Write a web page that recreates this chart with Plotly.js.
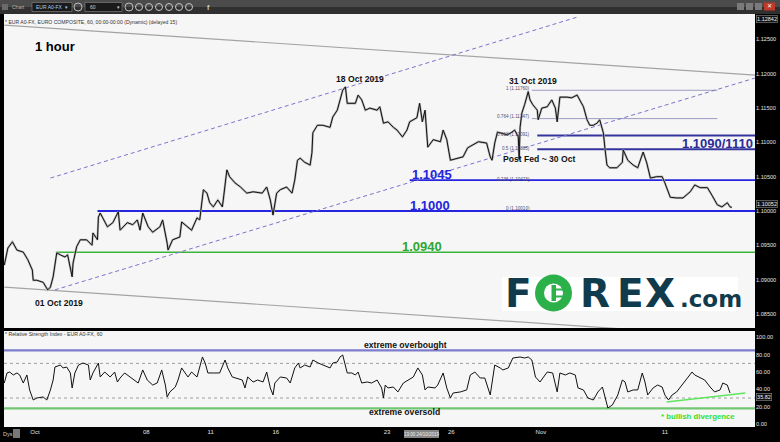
<!DOCTYPE html>
<html>
<head>
<meta charset="utf-8">
<script src="https://cdn.plot.ly/plotly-3.0.1.min.js"></script>
<style>
  html, body { margin:0; padding:0; background:#000; overflow:hidden; }
  #chart { width:780px; height:442px; }
</style>
</head>
<body>
<div id="chart"></div>
<script>
// EUR/USD (EUR A0-FX) hourly chart with RSI, 1 Oct - 13 Nov 2019.
// x values are trading hours counted from the 1 Oct 2019 session open.

const priceHour = [-34,-30,-25,-20,-13,-8,-3,-2,2,9,
  14,17,20,22,24,28,33,36,41,42,
  46,50,57,63,64,69,70,72,80,86,
  92,94,102,108,113,116,119,125,130,138,
  141,146,147,152,160,162,168,173,179,182,
  186,190,193,197,202,207,208,212,215,221,
  227,234,241,251,256,260,263,267,271,278,
  284,287,290,293,298,304,306,307,312,318,
  326,329,334,337,340,343,345,348,354,357,
  361,365,370,378,381,385,390,396,400,406,
  411,414,422,425,428,431,434,440,448,451,
  455,459,466,473,478,484,490,499,503,505,
  508,511,514,522,527,530,534,535,536,538,
  541,545,547,550,555,556,560,566,571,575,
  577,580,588,593,599,602,606,610,613,617,
  621,624,628,630,632,635,643,649,650,655,
  661,666,672,676,680,687,693,696,702,709,
  716,724,729,735,743,748,754,759,765,768,
  770];

const priceClose = [1.0921,1.0946,1.0955,1.0943,1.0940,1.0929,1.0914,1.0899,1.0899,1.0896,
  1.0885,1.0889,1.0904,1.0924,1.0939,1.0936,1.0933,1.0936,1.0904,1.0924,
  1.0948,1.0958,1.0958,1.0950,1.0968,1.0958,1.0991,1.0997,1.0977,1.0983,
  1.0999,1.0972,1.0983,1.0980,1.0987,1.0972,1.0997,1.0977,1.0969,1.0977,
  1.0987,1.0953,1.0943,1.0958,1.0962,1.0984,1.0977,1.0972,1.0990,1.0987,
  1.1031,1.1026,1.1012,1.1006,1.1016,1.1006,1.1016,1.1060,1.1050,1.1041,
  1.1035,1.1026,1.1028,1.1026,1.1035,1.1016,1.0994,1.1026,1.1031,1.1035,
  1.1026,1.1045,1.1074,1.1077,1.1071,1.1067,1.1085,1.1114,1.1125,1.1125,
  1.1122,1.1137,1.1147,1.1162,1.1176,1.1181,1.1157,1.1157,1.1157,1.1169,
  1.1162,1.1147,1.1150,1.1147,1.1152,1.1128,1.1130,1.1122,1.1118,1.1108,
  1.1118,1.1130,1.1136,1.1157,1.1130,1.1147,1.1093,1.1104,1.1101,1.1118,
  1.1104,1.1074,1.1077,1.1079,1.1092,1.1096,1.1101,1.1099,1.1079,1.1074,
  1.1099,1.1115,1.1114,1.1111,1.1115,1.1118,1.1108,1.1075,1.1122,1.1143,
  1.1155,1.1174,1.1162,1.1155,1.1147,1.1133,1.1150,1.1152,1.1162,1.1150,
  1.1130,1.1166,1.1166,1.1165,1.1169,1.1162,1.1152,1.1133,1.1125,1.1125,
  1.1128,1.1133,1.1114,1.1089,1.1067,1.1063,1.1063,1.1071,1.1089,1.1074,
  1.1067,1.1063,1.1086,1.1070,1.1048,1.1050,1.1050,1.1041,1.1020,1.1019,
  1.1019,1.1028,1.1038,1.1034,1.1034,1.1023,1.1009,1.1006,1.1012,1.1006,
  1.10052];

const rsiHour = [-34,-31,-28,-24,-20,-17,-13,-9,-6,-2,
  2,6,9,13,17,20,22,28,31,35,
  39,41,44,48,53,59,61,64,69,70,
  72,77,83,88,91,94,99,105,110,114,
  119,124,130,135,140,144,146,149,155,158,
  162,166,169,173,179,182,185,188,191,197,
  204,210,213,218,223,229,232,235,241,246,
  252,256,260,263,265,271,278,282,287,291,
  293,298,304,307,313,318,326,329,334,337,
  340,345,350,354,357,361,367,372,378,383,
  385,387,390,396,401,407,412,418,423,428,
  431,434,442,445,451,455,459,462,470,477,
  481,486,492,497,503,508,514,517,523,528,
  536,541,545,549,553,558,566,572,577,580,
  586,591,597,600,606,611,617,622,627,630,
  633,638,641,644,649,652,655,661,666,671,
  674,677,683,688,693,696,700,704,709,715,
  721,726,729,735,740,746,751,757,760,765,
  768];

const rsiValue = [47.3,58.9,60.0,56.6,58.9,56.6,47.3,56.6,39.3,27.7,
  30.0,31.2,31.2,27.7,39.3,50.8,65.8,68.1,64.7,65.8,
  58.9,41.6,58.9,68.1,70.4,68.1,50.8,58.9,68.1,70.4,
  54.3,60.0,54.3,60.0,48.5,53.1,58.9,54.3,50.8,47.3,
  62.4,50.8,45.0,47.3,62.4,45.0,31.2,37.0,42.7,50.8,
  64.7,58.9,54.3,60.0,54.3,65.8,77.4,70.4,58.9,58.9,
  58.9,73.9,64.7,54.3,53.1,50.8,41.6,54.3,48.5,50.8,
  48.5,60.0,41.6,33.5,47.3,54.3,53.1,47.3,64.7,70.4,
  64.7,68.1,65.8,73.9,70.4,68.1,64.7,70.4,71.6,77.4,
  79.7,58.9,58.9,56.6,60.0,47.3,48.5,47.3,50.8,41.6,
  30.0,45.0,41.6,42.7,37.0,47.3,50.8,54.3,64.7,56.6,
  39.3,42.7,41.6,45.0,58.9,41.6,30.0,35.8,37.0,39.3,
  56.6,60.0,53.1,53.1,33.5,68.1,64.7,62.4,64.7,76.2,
  77.4,76.2,77.4,73.9,54.3,48.5,60.0,58.9,37.0,58.9,
  56.6,58.9,56.6,41.6,39.3,30.0,27.7,37.0,42.7,31.2,
  18.5,21.9,27.7,33.5,50.8,48.5,37.0,39.3,39.3,58.9,
  48.5,33.5,41.6,45.0,42.7,33.5,27.7,33.5,37.0,45.0,
  53.1,60.0,56.6,53.1,50.8,42.7,37.0,39.3,47.3,45.0,
  35.82];

// calendar labels along the time axis
const dayTickHours = [0, 123, 194, 266, 389, 460, 559, 696];
const dayTickLabels = ['Oct', '08', '11', '16', '23', '26', 'Nov', '11'];

const priceTicks = [1.085, 1.09, 1.095, 1.1, 1.105, 1.11, 1.115, 1.12, 1.125];
const rsiTicks = [0, 20, 40, 60, 80, 100];
const chartTop = 1.12842;

// key levels and where each one starts
const supportMain = 1.1000, supportMainFrom = 69;
const supportLow = 1.0940, supportLowFrom = 24;
const resistNear = 1.1045, resistNearFrom = 414;
const resistZone = [1.1090, 1.1110], resistZoneFrom = 555;

// Fibonacci retracement: 31 Oct high down to the 1.1001 low
const fibHigh = 1.1176;
const fibLow = 1.1001;
const fibRatios = [1, 0.764, 0.618, 0.5, 0.236, 0];
const fibSpan = [549, 754];

// rising channel and the two long trendlines (hour, price anchors)
const channelUpperHours = [17, 600];
const channelUpperPrices = [1.1048, 1.1283];
const channelLowerHours = [22, 796];
const channelLowerPrices = [1.0885, 1.1194];
const trendTopHours = [-34, 796];
const trendTopPrices = [1.1271, 1.1198];
const trendBottomHours = [-34, 796];
const trendBottomPrices = [1.0889, 1.0815];

// RSI bands and the divergence trendline
const rsiOverbought = 85;
const rsiOversold = 18;
const rsiGuides = [70, 30];
const divergenceHours = [698, 785];
const divergenceRsi = [25.4, 35.8];

// ---- page geometry helpers (page pixels -> paper fractions) ----
const PL = 4, PT = 14, PW = 751, PH = 413;
const fx = x => (x - PL) / PW;
const fy = y => (PT + PH - y) / PH;

const FONT = 'Liberation Sans, Arial, sans-serif';

const traces = [
  {x: trendTopHours, y: trendTopPrices, mode: 'lines', line: {color: '#a4a4a4', width: 1.2}, hoverinfo: 'skip'},
  {x: trendBottomHours, y: trendBottomPrices, mode: 'lines', line: {color: '#a4a4a4', width: 1.2}, hoverinfo: 'skip'},
  {x: channelUpperHours, y: channelUpperPrices, mode: 'lines', line: {color: '#7c74cc', width: 1, dash: '4px,3px'}, hoverinfo: 'skip'},
  {x: channelLowerHours, y: channelLowerPrices, mode: 'lines', line: {color: '#7c74cc', width: 1, dash: '4px,3px'}, hoverinfo: 'skip'},
  {x: priceHour, y: priceClose, mode: 'lines', line: {color: '#b4b4b4', width: 2.2}, hoverinfo: 'skip'},
  {x: priceHour, y: priceClose, mode: 'lines', line: {color: '#111', width: 1}, hoverinfo: 'skip'},
  {x: rsiHour, y: rsiValue, mode: 'lines', yaxis: 'y2', line: {color: '#111', width: 1}, hoverinfo: 'skip'},
  {x: divergenceHours, y: divergenceRsi, mode: 'lines', yaxis: 'y2', line: {color: '#5ee65e', width: 1.5}, hoverinfo: 'skip'}
];

const shapes = [];
const hline = (yref, y, x0, x1, color, width, dash, xref) => shapes.push({
  type: 'line', xref: xref || 'x', yref: yref, x0: x0, x1: x1, y0: y, y1: y,
  line: {color: color, width: width, dash: dash || 'solid'}, layer: 'below'
});

// price levels
hline('y', supportLow, supportLowFrom, 900, '#3cb43c', 1.5);
hline('y', supportMain, supportMainFrom, 900, '#2525e0', 1.8);
hline('y', resistNear, resistNearFrom, 900, '#2525e0', 1.8);
resistZone.forEach(v => hline('y', v, resistZoneFrom, 900, '#34349e', 2));
const fibPrice = r => fibLow + r * (fibHigh - fibLow);
[1, 0.764].forEach(r => hline('y', fibPrice(r), fibSpan[0], fibSpan[1], '#9c9cc4', 1));

// RSI bands
hline('y2', rsiOverbought, 0, 1, '#7d7dcc', 2.2, 'solid', 'paper');
hline('y2', rsiOversold, 0, 1, '#72c672', 2.4, 'solid', 'paper');
rsiGuides.forEach(v => hline('y2', v, 0, 1, '#8a8a8a', 0.8, 'dot', 'paper'));

// toolbar
const rectP = (x0, y0, x1, y1, fill, line, lw) => shapes.push({
  type: 'rect', xref: 'paper', yref: 'paper', x0: fx(x0), x1: fx(x1), y0: fy(y1), y1: fy(y0),
  fillcolor: fill, line: {color: line || fill, width: lw || 0}, layer: 'above'
});
const circP = (x0, y0, x1, y1, fill, line, lw) => shapes.push({
  type: 'circle', xref: 'paper', yref: 'paper', x0: fx(x0), x1: fx(x1), y0: fy(y1), y1: fy(y0),
  fillcolor: fill, line: {color: line || fill, width: lw || 0}, layer: 'above'
});
rectP(0, 0, 780, 7, '#4b4b4b');
rectP(0, 7, 780, 14, '#303030');
rectP(2, 4, 8, 10, '#6a6a6a');
rectP(32, 2.5, 72, 11.5, '#1a1a1a', '#8a8a8a', 0.6);
circP(74, 3, 82, 11, 'rgba(0,0,0,0)', '#bdbdbd', 1);
rectP(85, 2.5, 122, 11.5, '#1a1a1a', '#8a8a8a', 0.6);
circP(125, 3, 133, 11, 'rgba(0,0,0,0)', '#bdbdbd', 1);
[139, 149, 159, 169, 179, 189].forEach(cx => circP(cx - 3.5, 3.5, cx + 3.5, 10.5, 'rgba(0,0,0,0)', '#c8c8c8', 1));
rectP(737, 3, 744, 10, '#7a7a7a');
rectP(746, 3, 753, 10, '#7a7a7a');
rectP(755, 3, 762, 10, '#7a7a7a');
rectP(764, 2.5, 775, 10.5, '#c0392b');

// bottom strip boxes
rectP(404, 430, 439, 438, '#858585');
rectP(13, 429, 20, 438, '#777');

// FOREX.com logo
rectP(502, 277, 738, 311, '#ffffff');
circP(535, 274.5, 572, 311.5, '#2bb04a');
circP(544, 283.5, 563, 302.5, '#ffffff');
rectP(551.5, 285, 556, 301, '#2bb04a');
rectP(556, 288.5, 570, 290.5, '#2bb04a');
rectP(556, 295.5, 570, 297.5, '#2bb04a');

const annotations = [];
const txt = (text, x, y, size, color, xanchor, extra) => annotations.push(Object.assign({
  text: text, xref: 'paper', yref: 'paper', x: fx(x), y: fy(y),
  xanchor: xanchor || 'left', yanchor: 'middle', showarrow: false,
  font: {family: FONT, size: size, color: color}
}, extra || {}));

txt('<b>1 hour</b>', 33, 47, 13, '#000');
txt('<b>18 Oct 2019</b>', 359.5, 79, 8.6, '#111', 'center');
txt('<b>31 Oct 2019</b>', 532.5, 81, 8.6, '#111', 'center');
txt('<b>Post Fed ~ 30 Oct</b>', 500.5, 159, 8.6, '#111');
txt('<b>01 Oct 2019</b>', 59, 303, 8.6, '#111', 'center');
txt('* EUR A0-FX, EURO COMPOSITE, 60, 00:00-00:00 (Dynamic) (delayed 15)', 3, 22, 5.1, '#333');
txt('* Relative Strength Index - EUR A0-FX, 60', 3, 333.5, 5.2, '#333');
txt('<b>extreme overbought</b>', 405, 345, 8.6, '#111', 'center');
txt('<b>extreme oversold</b>', 404.5, 411.5, 8.6, '#111', 'center');
txt('<b>* bullish divergence</b>', 659, 416, 7.8, '#2fe02f');

// level labels sit on their lines
const levelLabel = (text, x, y, color, xref, xanchor) => annotations.push({
  text: '<b>' + text + '</b>', xref: xref || 'x', yref: 'y', x: x, y: y,
  xanchor: xanchor || 'left', yanchor: 'bottom', yshift: -4, showarrow: false,
  font: {family: FONT, size: 13, color: color}
});
levelLabel(resistNear.toFixed(4), 414, resistNear, '#2424dd');
levelLabel(supportMain.toFixed(4), 412, supportMain, '#2424dd');
levelLabel(supportLow.toFixed(4), 403, supportLow, '#2fa62f');
levelLabel(resistZone[0].toFixed(4) + '/' + resistZone[1].toFixed(4).slice(2), 1, resistZone[0], '#2b2b9c', 'paper', 'right');

// Fibonacci ratio labels
fibRatios.forEach(r => annotations.push({
  text: r + ' (' + fibPrice(r).toFixed(5) + ')', xref: 'x', yref: 'y', x: fibSpan[0], y: fibPrice(r),
  xanchor: 'right', yanchor: 'middle', yshift: 2, showarrow: false,
  font: {family: FONT, size: 4.6, color: '#4c4c6c'}
}));

// right-scale tags (boxed, next to the regular tick labels)
const tag = (text, y) => txt(text, 756.5, y, 5.5, '#f0f0f0', 'left',
  {bgcolor: '#111', bordercolor: '#8a8a8a', borderwidth: 0.6, borderpad: 0.5});
tag(chartTop.toFixed(5), 19);
tag(priceClose[priceClose.length - 1].toFixed(5), 203.5);
tag(rsiValue[rsiValue.length - 1].toFixed(2), 397);

// bottom strip
txt('Dys', 1, 434, 5.5, '#cfcfcf');
txt('13:00 24/10/2019', 421.5, 434, 4.5, '#f0f0f0', 'center');

// toolbar text
txt('Chart', 10, 7, 5, '#b0b0b0');
txt('EUR A0-FX  \u25BE', 34, 7, 5, '#9fd0ff');
txt('60', 88, 7, 5, '#d0d0d0');
txt('\u25BE', 115, 7, 5, '#d0d0d0');
txt('<b>f</b>', 208, 7, 7, '#d0d0d0', 'center');
txt('\u2715', 769.5, 6.5, 6, '#fff', 'center');

// logo letters
const logo = (ch, x, y, size, xanchor) => txt('<b>' + ch + '</b>', x, y, size, '#0f3b4c', xanchor || 'center',
  {font: {family: 'DejaVu Sans, Liberation Sans, sans-serif', size: size, color: '#0f3b4c'}});
logo('F', 518, 293, 39);
logo('R', 595, 293, 39);
logo('E', 630.5, 293, 39);
logo('X', 660, 293, 39);
logo('.com', 678, 299, 23, 'left');

const layout = {
  width: 780, height: 442,
  margin: {l: PL, r: 780 - PL - PW, t: PT, b: 442 - PT - PH, pad: 0},
  paper_bgcolor: '#000', plot_bgcolor: '#f6f6f6',
  showlegend: false,
  font: {family: FONT, size: 7, color: '#ddd'},
  xaxis: {
    range: [-34.3, 795.6], anchor: 'y2', tickmode: 'array', tickvals: dayTickHours, ticktext: dayTickLabels,
    showgrid: false, zeroline: false, showline: false, ticks: '',
    tickfont: {family: FONT, size: 6, color: '#e0e0e0'}, fixedrange: true
  },
  yaxis: {
    domain: [(PT + PH - 328) / PH, 1], range: [1.08294, 1.12872], side: 'right',
    tickmode: 'array', tickvals: priceTicks, tickformat: '.5f',
    showgrid: false, zeroline: false, showline: false, ticks: '',
    tickfont: {family: FONT, size: 5.6, color: '#e0e0e0'}, fixedrange: true
  },
  yaxis2: {
    domain: [0, (PT + PH - 331) / PH], range: [-3.5, 107.4], side: 'right',
    tickmode: 'array', tickvals: rsiTicks, tickformat: '.2f',
    showgrid: false, zeroline: false, showline: false, ticks: '',
    tickfont: {family: FONT, size: 5.6, color: '#e0e0e0'}, fixedrange: true
  },
  shapes: shapes,
  annotations: annotations
};

Plotly.newPlot('chart', traces, layout, {displayModeBar: false, staticPlot: true});
</script>
</body>
</html>
